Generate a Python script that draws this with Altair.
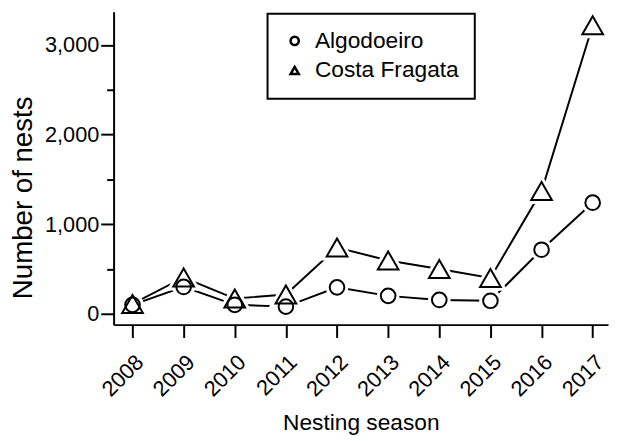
import altair as alt
import pandas as pd

years = [2008, 2009, 2010, 2011, 2012, 2013, 2014, 2015, 2016, 2017]
algodoeiro = [100, 300, 100, 80, 295, 200, 155, 145, 715, 1240]
costa_fragata = [110, 405, 170, 215, 740, 595, 500, 400, 1370, 3220]
sites = ["Algodoeiro", "Costa Fragata"]
y_ticks = [0, 500, 1000, 1500, 2000, 2500, 3000]

rows = []
for s, vals in zip(sites, [algodoeiro, costa_fragata]):
    for yr, v in zip(years, vals):
        rows.append({"year": yr, "site": s, "nests": v})
df = pd.DataFrame(rows)

FONT = "Liberation Sans"
xscale = alt.Scale(domain=[2007.63, 2017.3], nice=False, zero=False)
yscale = alt.Scale(domain=[-121, 3370], nice=False, zero=False)
shape_range = ["circle", "triangle-up"]
shape_scale = alt.Scale(domain=sites, range=shape_range)

x_axis = alt.Axis(values=years, format="d", labelAngle=-45, title="Nesting season",
                  tickSize=13, labelPadding=14, labelFontSize=22, titleFontSize=23,
                  titleBaseline="alphabetic", titleY=106, grid=False)
y_axis = alt.Axis(values=y_ticks,
                  labelExpr="datum.value % 1000 === 0 ? format(datum.value, ',') : ''",
                  tickSize={"condition": {"test": "datum.value % 1000 === 0", "value": 13},
                            "value": 7},
                  title="Number of nests",
                  labelPadding=2, labelFontSize=22, titleFontSize=28, grid=False,
                  titleBaseline="alphabetic", titleX=-83, titleY=188)

legend = alt.Legend(title=None, orient="none", legendX=156, legendY=2,
                    strokeColor="black", padding=16, rowPadding=6,
                    labelFontSize=23, labelFont=FONT, symbolSize=70,
                    labelOffset=9, symbolStrokeWidth=2.5)

base = alt.Chart(df)

lines = base.mark_line(color="black", strokeWidth=2).encode(
    x=alt.X("year:Q", scale=xscale, axis=x_axis),
    y=alt.Y("nests:Q", scale=yscale, axis=y_axis),
    detail="site:N",
)

marker_size = {"Algodoeiro": 220, "Costa Fragata": 440}


def halo_layer(site, shape):
    return base.transform_filter(alt.datum.site == site).mark_point(
        shape=shape, size=marker_size[site], filled=True, fill="white",
        stroke="white", strokeWidth=8, opacity=1,
    ).encode(
        x=alt.X("year:Q", scale=xscale),
        y=alt.Y("nests:Q", scale=yscale),
    )


def point_layer(site):
    return base.transform_filter(alt.datum.site == site).mark_point(
        size=marker_size[site], filled=False, color="black", strokeWidth=2, opacity=1,
    ).encode(
        x=alt.X("year:Q", scale=xscale),
        y=alt.Y("nests:Q", scale=yscale),
        shape=alt.Shape("site:N", scale=shape_scale, legend=legend),
    )


layers = [lines]
for s, shp in zip(sites, shape_range):
    layers.append(halo_layer(s, shp))
for s in sites:
    layers.append(point_layer(s))

chart = alt.layer(*layers).properties(
    width=501, height=317,
    autosize=alt.AutoSizeParams(type="none"),
    padding={"left": 107, "top": 1, "right": 1, "bottom": 110},
).configure_view(stroke=None).configure_axis(
    domainColor="black", domainWidth=2, tickColor="black", tickWidth=2,
    labelColor="black", titleColor="black", labelFont=FONT, titleFont=FONT,
    titleFontWeight="normal",
).configure_legend(strokeWidth=2, labelColor="black")

chart.save("out.html", embed_options={"renderer": "svg", "actions": False})
